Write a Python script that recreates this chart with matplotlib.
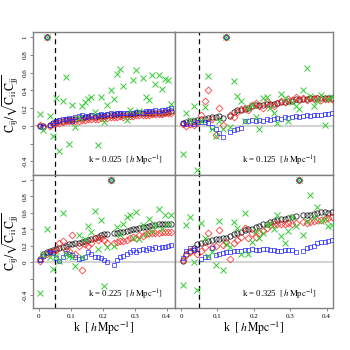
import matplotlib
matplotlib.use('Agg')
import matplotlib.pyplot as plt

plt.rcParams['font.family'] = ['Liberation Serif', 'DejaVu Serif']
plt.rcParams['mathtext.fontset'] = 'stix'

k_bins = [0.005, 0.015, 0.025, 0.035, 0.045, 0.055, 0.065, 0.075, 0.085, 0.095,
          0.105, 0.115, 0.125, 0.135, 0.145, 0.155, 0.165, 0.175, 0.185, 0.195,
          0.205, 0.215, 0.225, 0.235, 0.245, 0.255, 0.265, 0.275, 0.285, 0.295,
          0.305, 0.315, 0.325, 0.335, 0.345, 0.355, 0.365, 0.375, 0.385, 0.395,
          0.405, 0.415]

# panel k = 0.025
circ_025 = [0.00, 0.00, 1.00, 0.01, 0.03, 0.04, 0.05, 0.06, 0.07, 0.07,
            0.08, 0.08, 0.09, 0.09, 0.10, 0.10, 0.11, 0.10, 0.11, 0.11,
            0.11, 0.12, 0.12, 0.12, 0.13, 0.13, 0.12, 0.13, 0.13, 0.13,
            0.14, 0.14, 0.14, 0.14, 0.15, 0.15, 0.15, 0.15, 0.15, 0.16,
            0.16, 0.17]
diam_025 = [0.01, -0.01, 1.00, 0.00, 0.02, 0.03, 0.03, 0.04, 0.05, 0.05,
            0.05, 0.06, 0.06, 0.07, 0.07, 0.08, 0.08, 0.08, 0.08, 0.09,
            0.09, 0.09, 0.10, 0.10, 0.10, 0.11, 0.10, 0.11, 0.11, 0.11,
            0.12, 0.12, 0.12, 0.12, 0.12, 0.13, 0.13, 0.13, 0.13, 0.14,
            0.14, 0.14]
sq_025 = [0.00, -0.01, 1.00, 0.01, 0.03, 0.05, 0.07, 0.08, 0.08, 0.09,
          0.05, 0.10, 0.11, 0.12, 0.10, 0.11, 0.12, 0.11, 0.12, 0.13,
          0.12, 0.13, 0.14, 0.13, 0.15, 0.15, 0.14, 0.15, 0.15, 0.14,
          0.16, 0.16, 0.15, 0.17, 0.17, 0.17, 0.18, 0.17, 0.18, 0.18,
          0.19, 0.20]
cross_025 = [0.13, -0.05, 1.00, 0.11, -0.11, 0.31, -0.28, 0.28, 0.55, -0.20,
             0.24, -0.01, 0.09, 0.22, 0.27, 0.30, 0.33, 0.16, -0.22, 0.33,
             0.04, 0.24, 0.41, 0.30, 0.59, 0.64, 0.45, 0.07, 0.18, 0.52,
             0.63, 0.17, 0.54, 0.33, 0.29, 0.57, 0.47, 0.57, 0.42, 0.53,
             0.52, 0.25]

# panel k = 0.125
circ_125 = [0.03, 0.04, 0.05, 0.06, 0.07, 0.08, 0.08, 0.09, 0.10, 0.10,
            0.11, 0.09, 1.00, 0.11, 0.16, 0.18, 0.18, 0.19, 0.20, 0.22,
            0.23, 0.24, 0.24, 0.25, 0.25, 0.25, 0.26, 0.27, 0.27, 0.28,
            0.28, 0.30, 0.29, 0.30, 0.30, 0.31, 0.31, 0.31, 0.31, 0.31,
            0.31, 0.31]
diam_125 = [0.02, 0.00, 0.02, 0.01, 0.03, 0.12, 0.28, 0.40, 0.08, -0.10,
            0.20, 0.01, 1.00, 0.12, 0.10, 0.16, 0.19, 0.20, 0.18, 0.24,
            0.26, 0.22, 0.20, 0.27, 0.23, 0.22, 0.26, 0.28, 0.27, 0.30,
            0.29, 0.33, 0.30, 0.32, 0.29, 0.31, 0.30, 0.31, 0.29, 0.30,
            0.30, 0.30]
sq_125 = [0.03, 0.02, 0.03, 0.02, 0.04, 0.04, 0.04, 0.03, -0.01, -0.04,
          -0.08, -0.13, 1.00, -0.07, -0.05, -0.04, -0.02, 0.05, 0.06, 0.07,
          0.05, 0.07, 0.06, 0.08, 0.07, 0.08, 0.09, 0.08, 0.10, 0.09,
          0.10, 0.11, 0.10, 0.11, 0.12, 0.11, 0.12, 0.12, 0.12, 0.13,
          0.13, 0.14]
cross_125 = [-0.32, 0.14, 0.07, 0.22, -0.50, 0.06, 0.21, 0.56, -0.03, -0.11,
             0.05, -0.03, 1.00, -0.01, 0.51, 0.34, 0.28, 0.06, 0.20, 0.24,
             0.10, -0.03, 0.32, 0.33, 0.20, 0.15, 0.03, 0.36, 0.31, 0.05,
             0.27, 0.22, 0.19, 0.41, 0.65, 0.34, 0.22, 0.28, 0.35, 0.01,
             0.30, 0.33]

# panel k = 0.225
circ_225 = [0.04, 0.10, 0.12, 0.14, 0.15, 0.16, 0.17, 0.18, 0.20, 0.22,
            0.22, 0.23, 0.24, 0.25, 0.26, 0.27, 0.28, 0.29, 0.31, 0.33,
            0.34, 0.34, 1.00, 0.35, 0.36, 0.37, 0.37, 0.38, 0.39, 0.40,
            0.41, 0.42, 0.43, 0.43, 0.44, 0.45, 0.45, 0.46, 0.46, 0.47,
            0.47, 0.46]
diam_225 = [0.01, 0.08, 0.10, 0.12, 0.13, 0.15, 0.23, 0.26, 0.15, 0.14,
            0.33, 0.10, 0.20, -0.09, 0.22, 0.20, 0.24, 0.29, 0.27, 0.30,
            0.27, 0.24, 1.00, 0.24, 0.25, 0.26, 0.26, 0.27, 0.29, 0.31,
            0.30, 0.33, 0.32, 0.34, 0.35, 0.35, 0.36, 0.36, 0.37, 0.37,
            0.37, 0.37]
sq_225 = [0.03, 0.08, 0.11, 0.12, 0.11, 0.05, 0.02, 0.07, 0.11, 0.10,
          0.09, 0.07, 0.04, 0.05, 0.07, 0.13, 0.10, 0.06, 0.07, 0.05,
          0.03, 0.00, 1.00, -0.03, 0.03, 0.07, 0.08, 0.10, 0.12, 0.15,
          0.13, 0.15, 0.16, 0.15, 0.17, 0.16, 0.18, 0.17, 0.18, 0.19,
          0.20, 0.21]
cross_225 = [-0.37, 0.10, 0.41, 0.06, -0.08, 0.08, 0.02, 0.60, 0.10, 0.08,
             0.06, -0.05, 0.33, 0.06, 0.28, 0.44, 0.37, 0.62, 0.16, 0.51,
             -0.29, 0.18, 1.00, 0.20, 0.43, 0.33, 0.47, 0.55, 0.57, 0.30,
             0.61, 0.28, 0.45, 0.34, 0.52, 0.38, 0.45, 0.65, 0.41, 0.58,
             0.46, 0.57]

# panel k = 0.325
circ_325 = [0.01, 0.10, 0.14, 0.17, 0.22, 0.24, 0.25, 0.26, 0.27, 0.28,
            0.28, 0.29, 0.30, 0.32, 0.34, 0.36, 0.37, 0.39, 0.40, 0.41,
            0.43, 0.44, 0.46, 0.47, 0.49, 0.50, 0.51, 0.52, 0.53, 0.54,
            0.55, 0.56, 1.00, 0.57, 0.57, 0.58, 0.59, 0.60, 0.61, 0.61,
            0.60, 0.61]
diam_325 = [0.03, 0.09, 0.12, 0.15, 0.10, 0.14, 0.18, 0.35, 0.18, 0.20,
            0.39, 0.21, 0.25, 0.04, 0.23, 0.27, 0.31, 0.42, 0.30, 0.35,
            0.31, 0.35, 0.38, 0.42, 0.45, 0.46, 0.47, 0.46, 0.47, 0.48,
            0.47, 0.48, 1.00, 0.49, 0.48, 0.49, 0.50, 0.51, 0.51, 0.52,
            0.54, 0.55]
sq_325 = [0.05, 0.14, 0.17, 0.15, 0.16, 0.04, 0.06, 0.07, 0.17, 0.09,
          0.10, 0.11, 0.12, 0.13, 0.14, 0.14, 0.14, 0.15, 0.15, 0.16,
          0.15, 0.15, 0.16, 0.16, 0.15, 0.15, 0.14, 0.14, 0.15, 0.15,
          0.15, 0.12, 1.00, 0.14, 0.17, 0.19, 0.20, 0.23, 0.25, 0.25,
          0.26, 0.27]
cross_325 = [-0.27, 0.45, 0.55, 0.00, -0.34, 0.48, 0.30, 0.08, 0.12, -0.03,
             0.50, -0.09, 0.22, 0.18, 0.49, 0.42, 0.10, 0.60, 0.10, 0.25,
             0.38, 0.30, 0.35, 0.45, 0.47, 0.40, 0.58, 0.32, 0.24, 0.38,
             0.55, 0.44, 1.00, 0.33, 0.50, 0.82, 0.55, 0.67, 0.50, 0.52,
             0.44, 0.45]

panel_labels = ['0.025', '0.125', '0.225', '0.325']
k_cut = 0.05

fig = plt.figure(figsize=(3.5, 3.5), dpi=100)

# (left, bottom, width, height), xlim
layout = [
    ([0.0943, 0.500, 0.4057, 0.4086], (-0.0178, 0.426), True, False),
    ([0.5000, 0.500, 0.4514, 0.4086], (-0.0165, 0.4176), False, False),
    ([0.0943, 0.120, 0.4057, 0.3800], (-0.0178, 0.426), True, True),
    ([0.5000, 0.120, 0.4514, 0.3800], (-0.0165, 0.4176), False, True),
]
series = [
    (circ_025, diam_025, sq_025, cross_025),
    (circ_125, diam_125, sq_125, cross_125),
    (circ_225, diam_225, sq_225, cross_225),
    (circ_325, diam_325, sq_325, cross_325),
]

spine_col = '#808080'
for (rect, xl, left, bottom), (c, d, s, x), lab in zip(layout, series, panel_labels):
    ax = fig.add_axes(rect)
    ax.axhline(0, color='#cccccc', lw=1.2, zorder=1)
    ax.axvline(k_cut, color='black', lw=0.9, ls=(0, (4, 3)), zorder=2)
    ax.plot(k_bins, c, ls='none', marker='o', ms=3.8, mfc='none', mec='black', mew=0.6, alpha=0.85, zorder=3)
    ax.plot(k_bins, d, ls='none', marker='D', ms=3.5, mfc='none', mec='#ff2020', mew=0.6, alpha=0.85, zorder=3)
    ax.plot(k_bins, s, ls='none', marker='s', ms=3.3, mfc='none', mec='#2020ff', mew=0.6, alpha=0.8, zorder=3)
    ax.plot(k_bins, x, ls='none', marker='x', ms=4.0, mec='#33cc33', mew=0.7, zorder=4)
    ax.set_xlim(*xl)
    ax.set_ylim(-0.555, 1.06)
    for sp in ax.spines.values():
        sp.set_color(spine_col)
        sp.set_linewidth(1.0)
    ax.set_yticks([-0.4, -0.2, 0, 0.2, 0.4, 0.6, 0.8, 1.0])
    ax.tick_params(axis='both', direction='out', length=2, width=0.5, color='#555555',
                   labelsize=5, pad=2)
    if left:
        ax.set_yticklabels(['-0.4', '', '0', '0.2', '0.4', '0.6', '0.8', '1'],
                           rotation=90, va='center')
        ax.set_ylabel(r'$\mathrm{C_{ij}}/\sqrt{\mathrm{C_{ii}C_{jj}}}$', fontsize=8.5, labelpad=1)
    else:
        ax.tick_params(axis='y', left=False, labelleft=False)
    ax.set_xticks([0, 0.1, 0.2, 0.3, 0.4])
    if bottom:
        ax.set_xticklabels(['0', '0.1', '0.2', '0.3', '0.4'])
        ax.set_xlabel(r'k  $[\,h\,\mathrm{Mpc}^{-1}]$', fontsize=8.5, labelpad=1)
    else:
        ax.tick_params(axis='x', bottom=False, labelbottom=False)
    ax.text(0.272, -0.40, r'k = ' + lab + r'  $[\,h\,\mathrm{Mpc}^{-1}]$',
            fontsize=6.3, ha='center', va='center')

fig.savefig('out.png', dpi=100)
